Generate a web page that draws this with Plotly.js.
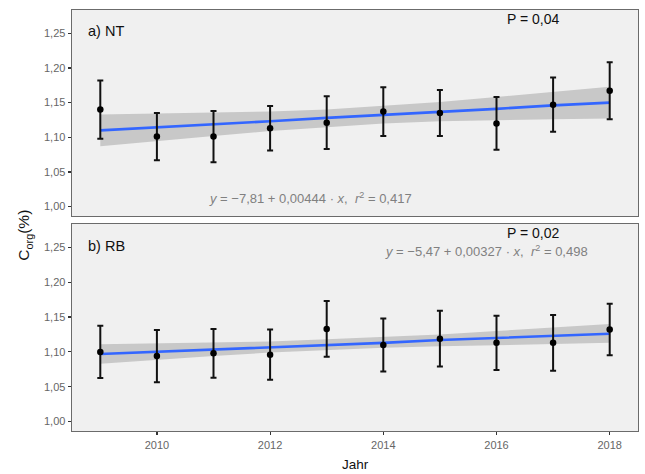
<!DOCTYPE html>
<html>
<head>
<meta charset="utf-8">
<script src="https://cdn.plot.ly/plotly-3.0.1.min.js"></script>
<style>html,body{margin:0;padding:0;background:#fff}#chart{width:645px;height:474px}</style>
</head>
<body>
<div id="chart"></div>
<script>
// ---- data ----
const years = [2009, 2010, 2011, 2012, 2013, 2014, 2015, 2016, 2017, 2018];

const ntMean = [1.140, 1.101, 1.101, 1.113, 1.121, 1.137, 1.135, 1.120, 1.147, 1.167];
const ntErr  = [0.042, 0.034, 0.037, 0.032, 0.038, 0.035, 0.033, 0.038, 0.039, 0.041];
const ntFit  = [1.110, 1.114, 1.119, 1.123, 1.128, 1.132, 1.137, 1.141, 1.146, 1.150];
const ntUpper = [1.133, 1.134, 1.135, 1.137, 1.140, 1.145, 1.151, 1.158, 1.165, 1.173];
const ntLower = [1.087, 1.095, 1.102, 1.109, 1.115, 1.120, 1.123, 1.125, 1.126, 1.127];

const rbMean = [1.100, 1.094, 1.098, 1.096, 1.133, 1.110, 1.119, 1.113, 1.113, 1.132];
const rbErr  = [0.0375, 0.0375, 0.035, 0.036, 0.040, 0.038, 0.040, 0.039, 0.040, 0.037];
const rbFit  = [1.097, 1.100, 1.104, 1.107, 1.110, 1.113, 1.117, 1.120, 1.123, 1.126];
const rbUpper = [1.111, 1.112, 1.113, 1.115, 1.118, 1.121, 1.125, 1.130, 1.135, 1.140];
const rbLower = [1.083, 1.089, 1.094, 1.099, 1.103, 1.106, 1.108, 1.110, 1.112, 1.113];

const xTicks = [2010, 2012, 2014, 2016, 2018];
const yTicks = [1.00, 1.05, 1.10, 1.15, 1.20, 1.25];

const panelLabels = ['a) NT', 'b) RB'];
const pLabels = ['P = 0,04', 'P = 0,02'];
const eqLabels = [
  '<i>y</i> = \u22127,81 + 0,00444 \u00b7 <i>x</i>,  <i>r</i><sup>2</sup> = 0,417',
  '<i>y</i> = \u22125,47 + 0,00327 \u00b7 <i>x</i>,  <i>r</i><sup>2</sup> = 0,498'
];

// ---- traces ----
const BAND = 'rgba(150,150,150,0.45)';
const BLUE = '#3366FF';
function panel(xa, ya, mean, err, fit, up, lo) {
  return [
    {x: years, y: up, xaxis: xa, yaxis: ya, mode: 'lines', line: {width: 0, color: BAND}, hoverinfo: 'skip', showlegend: false},
    {x: years, y: lo, xaxis: xa, yaxis: ya, mode: 'lines', line: {width: 0, color: BAND}, fill: 'tonexty', fillcolor: BAND, hoverinfo: 'skip', showlegend: false},
    {x: years, y: fit, xaxis: xa, yaxis: ya, mode: 'lines', line: {width: 2.6, color: BLUE}, showlegend: false},
    {x: years, y: mean, xaxis: xa, yaxis: ya, mode: 'markers', marker: {size: 6.5, color: '#000'},
     error_y: {type: 'data', array: err, visible: true, color: '#111', thickness: 2, width: 3}, showlegend: false}
  ];
}
const data = [].concat(
  panel('x', 'y', ntMean, ntErr, ntFit, ntUpper, ntLower),
  panel('x2', 'y2', rbMean, rbErr, rbFit, rbUpper, rbLower)
);

const FONT = 'Liberation Sans, Arial, sans-serif';
const common = {
  showgrid: false, zeroline: false, showline: true, mirror: true,
  linecolor: '#6b6b6b', linewidth: 1.4,
  ticks: 'outside', ticklen: 3, tickwidth: 1.2, tickcolor: '#333',
  tickfont: {family: FONT, size: 11, color: '#666'}
};
const xRange = [2008.5, 2018.5];
const yRange = [0.9865, 1.2835];

const annotations = [];
['y', 'y2'].forEach((ya, i) => {
  annotations.push({xref: 'x' + (i ? '2' : '') + ' domain', yref: ya + ' domain', x: 0.025, y: i ? 0.894 : 0.898,
    xanchor: 'left', yanchor: 'middle', text: panelLabels[i], showarrow: false,
    font: {family: FONT, size: 14.5, color: '#111'}});
  annotations.push({xref: 'x' + (i ? '2' : '') + ' domain', yref: ya + ' domain', x: 0.8145, y: i ? 0.955 : 0.956,
    xanchor: 'center', yanchor: 'middle', text: pLabels[i], showarrow: false,
    font: {family: FONT, size: 14, color: '#111'}});
});
annotations.push({xref: 'x domain', yref: 'y domain', x: 0.4205, y: 0.086, xanchor: 'center', yanchor: 'middle',
  text: eqLabels[0], showarrow: false, font: {family: FONT, size: 13, color: '#808080'}});
annotations.push({xref: 'x2 domain', yref: 'y2 domain', x: 0.7327, y: 0.868, xanchor: 'center', yanchor: 'middle',
  text: eqLabels[1], showarrow: false, font: {family: FONT, size: 13, color: '#808080'}});
annotations.push({xref: 'paper', yref: 'paper', x: -0.083, y: 0.464, xanchor: 'center', yanchor: 'middle',
  textangle: -90, text: 'C<sub>org</sub>(%)', showarrow: false, font: {family: FONT, size: 15.5, color: '#111'}});
annotations.push({xref: 'paper', yref: 'paper', x: 0.5, y: -0.079, xanchor: 'center', yanchor: 'middle',
  text: 'Jahr', showarrow: false, font: {family: FONT, size: 13.5, color: '#111'}});

const layout = {
  width: 645, height: 474,
  margin: {l: 72, r: 7, t: 10, b: 43},
  paper_bgcolor: '#ffffff', plot_bgcolor: '#f0f0f0',
  separators: ', ',
  showlegend: false,
  xaxis: Object.assign({}, common, {domain: [0, 1], range: xRange, anchor: 'y', ticks: '', showticklabels: false}),
  yaxis: Object.assign({}, common, {domain: [0.5107, 1], range: yRange, anchor: 'x', tickvals: yTicks, tickformat: '.2f'}),
  xaxis2: Object.assign({}, common, {domain: [0, 1], range: xRange, anchor: 'y2', tickvals: xTicks, tickformat: 'd'}),
  yaxis2: Object.assign({}, common, {domain: [0, 0.4917], range: yRange, anchor: 'x2', tickvals: yTicks, tickformat: '.2f'}),
  annotations: annotations
};

Plotly.newPlot('chart', data, layout, {staticPlot: true, displayModeBar: false});
</script>
</body>
</html>
